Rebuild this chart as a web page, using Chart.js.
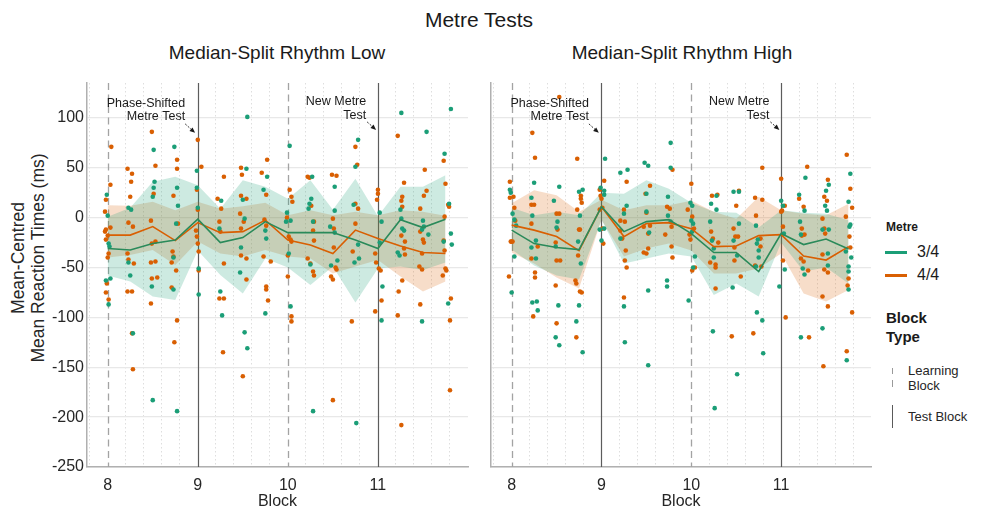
<!DOCTYPE html>
<html>
<head>
<meta charset="utf-8">
<title>Metre Tests</title>
<script src="https://cdn.jsdelivr.net/npm/chart.js@4.4.1/dist/chart.umd.min.js"></script>
<style>
  body { margin: 0; background: #fff; font-family: "Liberation Sans", Arial, Helvetica, sans-serif; color: #1a1a1a; }
  #wrap { position: relative; width: 981px; height: 508px; overflow: hidden; }
  .abs { position: absolute; white-space: nowrap; }
  .ctr { transform: translate(-50%, -50%); text-align: center; }
  canvas { position: absolute; top: 0; }
  .swatch { position: absolute; height: 2.5px; width: 22px; }
</style>
</head>
<body>
<div id="wrap">
  <div class="abs ctr" style="left:479px; top:20px; font-size:21px;">Metre Tests</div>
  <div class="abs ctr" style="left:277px; top:53px; font-size:19px;">Median-Split Rhythm Low</div>
  <div class="abs ctr" style="left:682px; top:53px; font-size:19px;">Median-Split Rhythm High</div>
  <div class="abs" style="left:28px; top:258px; font-size:17.5px; line-height:20px; text-align:center; transform:translate(-50%,-50%) rotate(-90deg); color:#262626;">Mean-Centred<br>Mean Reaction Times (ms)</div>

  <canvas id="lowChart" width="475" height="508" style="left:0px;"></canvas>
  <canvas id="highChart" width="400" height="508" style="left:475px;"></canvas>

  <!-- legend -->
  <div class="abs" style="left:886px; top:220px; font-size:12px; font-weight:bold;">Metre</div>
  <div class="swatch" style="left:885px; top:251px; background:#1b9e77;"></div>
  <div class="abs" style="left:917px; top:243px; font-size:16px;">3/4</div>
  <div class="swatch" style="left:885px; top:274px; background:#d95f02;"></div>
  <div class="abs" style="left:917px; top:266px; font-size:16px;">4/4</div>
  <div class="abs" style="left:886px; top:308px; font-size:15px; font-weight:bold; line-height:19px;">Block<br>Type</div>
  <div class="abs" style="left:892px; top:368px; width:1px; height:6px; background:#9a9a9a;"></div>
  <div class="abs" style="left:892px; top:380px; width:1px; height:7px; background:#9a9a9a;"></div>
  <div class="abs" style="left:908px; top:363px; font-size:13px; line-height:15px; color:#262626;">Learning<br>Block</div>
  <div class="abs" style="left:892px; top:405px; width:1.2px; height:23px; background:#5a5a5a;"></div>
  <div class="abs" style="left:908px; top:409px; font-size:13px; color:#262626;">Test Block</div>
</div>

<script>
// ===== Axes =====
const blockPos = [8, 8.25, 8.5, 8.75, 9, 9.25, 9.5, 9.75, 10, 10.25, 10.5, 10.75, 11, 11.25, 11.5, 11.75];
const blockTicks = [8, 9, 10, 11];
const xGrid = [7.8, 8, 8.2, 8.4, 8.6, 8.8, 9, 9.2, 9.4, 9.6, 9.8, 10, 10.2, 10.4, 10.6, 10.8, 11, 11.2, 11.4, 11.6, 11.8];
const yTicks = [-250, -200, -150, -100, -50, 0, 50, 100];
const learningBlocks = [8, 10];
const testBlocks = [9, 11];

// ===== Rhythm Low: means and ribbons =====
const lowMean34  = [-31, -32.5, -26, -22.5, -1.5, -25, -20, -4, -15, -15, -15, -22.5, -31, -2, -10, -1.5];
const lowUpper34 = [1, 10, 36, 41, 32.5, 9, 37.5, 31, 19, 37.5, 8, 39, 1.5, 31, 31, 42.5];
const lowLower34 = [-58, -64, -79, -82.5, -33, -57.5, -76, -41, -50, -67.5, -49, -85, -51, -49, -52.5, -45];
const lowMean44  = [-17.5, -17.5, -9, -23, -5, -15, -14, -2.5, -22.5, -27.5, -36, -12.5, -21, -28.5, -35, -36];
const lowUpper44 = [12.5, 12, 16, 7.5, 16, 9, 11.5, 15, 2.5, 7.5, 2.5, 6, 2.5, 7.5, 6, 2];
const lowLower44 = [-40, -37.5, -32.5, -47.5, -24, -36, -39, -32.5, -39, -41, -56, -49, -42.5, -59, -74, -64];

// ===== Rhythm High: means and ribbons =====
const highMean34  = [-12.5, -26, -30, -32, 11, -14, -4, -2, -16, -35, -35, -54, -16, -27, -21.5, -31.5];
const highUpper34 = [10, 2.5, 6, 2.5, 25, 24, 37.5, 29, 15, 6, 5, -10, 7.5, 5, 4, -2.5];
const highLower34 = [-32, -48, -58, -62, -2, -46, -41, -36, -39, -77.5, -66, -79, -25, -54, -50, -66];
const highMean44  = [-7.5, -12.5, -19, -33, 11, -19, -6, -5, -11, -29, -28.5, -18, -17, -38.5, -42.5, -29];
const highUpper44 = [14.5, 27.5, 22.5, 6, 18, 7.5, 12.5, 12.5, 17, 6, -1, 21, 7.5, 4, 2.5, 14];
const highLower44 = [-35, -46, -60, -71, -2, -39, -31, -26, -33, -56, -56, -51, -36, -76, -84, -72.5];

// ===== Participant points [block, ms] =====
const lowPoints34 = [
  [7.99,23],[8.0,2],[8.01,-26],[8.02,-29],[7.98,-63],[8.03,-61],[8.01,-87],
  [8.23,10],[8.26,8],[8.23,-45],[8.25,-58],[8.28,-116],
  [8.51,68],[8.52,36],[8.51,30],[8.5,21],[8.49,-69],[8.5,-183],
  [8.74,71],[8.77,30],[8.78,12],[8.76,-6],[8.73,-40],[8.73,-72],[8.77,-194],
  [8.99,47],[8.99,30],[9.0,10],[9.01,-51],[9.01,-77],
  [9.26,17],[9.24,-11],[9.25,-74],[9.27,-98],
  [9.54,49],[9.5,18],[9.52,-1],[9.48,-30],[9.47,-55],[9.52,-115],[9.55,-131],[9.55,101],
  [9.77,41],[9.73,28],[9.75,-13],[9.76,-21],[9.75,-96],
  [10.02,72],[9.99,5],[9.98,-4],[10.03,-3],[10.01,-36],[10.03,-89],
  [10.27,41],[10.26,19],[10.24,14],[10.23,9],[10.28,-4],[10.28,-194],[10.25,-47],
  [10.52,31],[10.52,7],[10.47,-9],[10.52,-15],[10.48,-48],[10.55,-43],
  [10.78,78],[10.75,51],[10.73,13],[10.78,-27],[10.79,-41],[10.74,-45],[10.76,-206],
  [11.02,5],[11.04,-4],[11.02,-25],[11.05,-69],[11.04,-103],
  [11.26,105],[11.25,8],[11.26,-1],[11.29,-13],[11.27,-11],[11.22,-35],[11.24,-38],
  [11.54,86],[11.5,-3],[11.51,-9],[11.49,-12],[11.56,-17],[11.49,-104],
  [11.81,109],[11.74,64],[11.79,14],[11.81,-16],[11.82,-27],[11.73,-24],[11.78,-86]
];
const lowPoints44 = [
  [8.04,71],[8.03,33],[7.98,18],[7.97,6],[7.97,-14],[7.98,-12],[8.0,-18],[7.98,-22],[8.03,-10],[8.01,-36],[8.0,-40],[7.99,-66],[7.98,-75],[8.01,-82],
  [8.22,49],[8.27,44],[8.26,36],[8.25,21],[8.23,-5],[8.28,-9],[8.22,-36],[8.23,-42],[8.29,-46],[8.22,-74],[8.27,-74],[8.27,-116],[8.28,-152],
  [8.49,86],[8.53,52],[8.51,24],[8.48,-3],[8.49,-26],[8.53,-24],[8.48,-45],[8.53,-44],[8.49,-61],[8.55,-60],[8.48,-86],
  [8.77,58],[8.77,49],[8.73,22],[8.78,-6],[8.72,-34],[8.73,-39],[8.71,-45],[8.76,-53],[8.71,-70],[8.77,-103],[8.74,-125],
  [9.0,78],[8.99,28],[9.0,8],[8.98,-13],[8.99,-19],[9.0,-26],[9.01,-34],[9.01,-53],[9.04,51],
  [9.29,41],[9.22,19],[9.26,9],[9.24,-4],[9.25,-14],[9.29,-46],[9.24,-81],[9.29,-81],[9.28,-135],
  [9.48,50],[9.49,43],[9.48,22],[9.54,19],[9.47,4],[9.51,-4],[9.48,-11],[9.48,-38],[9.54,-41],[9.54,-62],[9.5,-159],
  [9.77,58],[9.71,45],[9.76,23],[9.74,-2],[9.76,-8],[9.73,-39],[9.76,-69],[9.78,-83],[9.81,-44],[9.76,-72],
  [10.02,28],[10.04,21],[10.05,16],[9.99,0],[10.01,-19],[10.03,-22],[10.04,-24],[10.0,-38],[10.0,-59],[10.04,-99],[10.04,-104],
  [10.22,41],[10.24,40],[10.26,12],[10.29,-4],[10.28,-13],[10.29,-23],[10.22,-41],[10.25,-46],[10.28,-54],[10.29,-58],
  [10.49,43],[10.54,42],[10.5,-1],[10.51,-11],[10.51,-30],[10.53,-50],[10.54,-52],[10.48,-59],[10.5,-62],[10.5,-183],
  [10.75,71],[10.77,53],[10.75,14],[10.78,9],[10.75,-6],[10.72,-34],[10.71,-104],
  [11.0,28],[11.0,24],[10.99,18],[10.97,-36],[10.98,-45],[11.01,-51],[11.03,-53],[10.97,-94],[11.04,-83],
  [11.22,82],[11.29,35],[11.27,21],[11.26,17],[11.27,11],[11.26,-18],[11.3,-24],[11.29,-31],[11.3,-37],[11.27,-63],[11.23,-74],[11.22,-98],[11.26,-208],
  [11.52,48],[11.54,27],[11.51,22],[11.47,9],[11.47,-14],[11.5,-22],[11.51,-25],[11.49,-36],[11.46,-49],[11.49,-52],[11.47,-87],
  [11.73,57],[11.75,34],[11.74,1],[11.78,13],[11.79,11],[11.73,-23],[11.74,-33],[11.75,-51],[11.76,-53],[11.72,-58],[11.81,-81],[11.8,-103],[11.8,-173]
];
const highPoints34 = [
  [7.99,25],[8.01,4],[8.03,-2],[8.03,-39],[8.0,-75],[7.98,28],[8.05,-8],
  [8.25,35],[8.22,20],[8.23,2],[8.27,-23],[8.22,-30],[8.27,-41],[8.23,-85],[8.28,-84],[8.29,-93],
  [8.53,31],[8.47,17],[8.51,-4],[8.5,-10],[8.49,-29],[8.52,-88],[8.49,-120],[8.53,-128],
  [8.75,26],[8.79,28],[8.76,2],[8.74,-24],[8.77,-46],[8.75,-88],[8.72,-104],[8.79,-135],
  [9.04,59],[8.99,30],[9.03,23],[9.03,27],[8.98,-12],[9.03,-11],[9.0,-23],
  [9.21,45],[9.29,48],[9.25,4],[9.28,12],[9.21,-21],[9.25,-89],[9.26,-125],
  [9.48,55],[9.52,52],[9.5,24],[9.5,6],[9.53,-15],[9.52,-73],[9.52,-148],
  [9.77,75],[9.77,50],[9.74,21],[9.74,2],[9.77,-4],[9.73,-63],[9.73,-69],
  [9.99,15],[10.01,12],[10.0,-3],[10.02,-6],[10.01,-14],[10.04,-39],[10.02,-50],[9.97,-83],
  [10.22,14],[10.28,22],[10.28,8],[10.21,-4],[10.23,-23],[10.25,-31],[10.25,-40],[10.24,-114],[10.26,-191],
  [10.47,26],[10.53,26],[10.53,-6],[10.47,-23],[10.51,-38],[10.46,-70],[10.51,-157],
  [10.72,-8],[10.74,-22],[10.73,-26],[10.75,-33],[10.75,-40],[10.72,-49],[10.73,-95],[10.79,-103],[10.8,-136],
  [11.0,17],[11.02,12],[11.03,-16],[11.04,-52],[10.98,-69],
  [11.27,40],[11.2,23],[11.26,7],[11.21,-4],[11.22,-17],[11.24,-51],[11.26,-57],[11.22,-120],
  [11.53,33],[11.5,27],[11.49,12],[11.51,7],[11.46,-12],[11.53,-12],[11.52,-36],[11.52,-48],[11.46,-111],
  [11.77,44],[11.75,16],[11.76,-9],[11.77,-7],[11.72,-34],[11.78,-40],[11.75,-49],[11.75,-54],[11.75,-72],[11.73,-143]
];
const highPoints44 = [
  [7.98,36],[7.98,20],[8.02,21],[8.03,10],[7.99,-24],[8.0,-24],[8.01,-24],[7.97,-59],[8.04,-3],
  [8.23,85],[8.26,60],[8.22,13],[8.25,13],[8.22,-6],[8.29,-29],[8.22,-41],[8.26,-55],[8.26,-60],[8.24,-99],
  [8.53,121],[8.5,4],[8.53,4],[8.49,-25],[8.51,-12],[8.5,-43],[8.54,-43],[8.49,-68],[8.5,-106],
  [8.73,59],[8.77,19],[8.78,15],[8.73,8],[8.77,22],[8.75,-12],[8.76,-12],[8.74,-38],[8.71,-63],[8.72,-66],[8.76,-74],[8.78,-75],[8.72,-120],
  [8.98,28],[9.03,37],[9.0,19],[9.01,10],[8.98,8],[9.02,-26],[9.01,-11],[8.99,22],
  [9.28,36],[9.25,8],[9.26,-4],[9.21,-3],[9.21,-13],[9.23,-21],[9.27,-33],[9.26,-43],[9.28,-50],[9.25,-80],
  [9.54,32],[9.49,24],[9.5,5],[9.47,-9],[9.54,-8],[9.52,-16],[9.52,-31],[9.47,-35],[9.5,-36],
  [9.79,48],[9.76,9],[9.73,11],[9.78,-9],[9.71,-17],[9.78,-29],[9.79,-40],
  [10.0,34],[9.96,8],[10.01,1],[9.98,-17],[9.99,-22],[10.01,-53],[10.04,-50],[10.03,-11],
  [10.29,23],[10.23,22],[10.22,-14],[10.24,-21],[10.3,-25],[10.21,-45],[10.27,-47],[10.27,-50],[10.27,-71],
  [10.53,27],[10.5,12],[10.47,-11],[10.49,-19],[10.52,-19],[10.48,-30],[10.48,-43],[10.55,-59],[10.45,-119],
  [10.79,50],[10.71,20],[10.79,18],[10.72,2],[10.77,-21],[10.77,-29],[10.78,-49],[10.71,-48],[10.69,-116],
  [11.0,39],[11.04,12],[11.01,7],[11.0,6],[11.02,-9],[11.02,-43],[11.05,-100],
  [11.29,51],[11.2,19],[11.25,11],[11.23,-11],[11.23,-18],[11.26,-17],[11.22,-41],[11.25,-44],[11.3,-53],[11.31,-120],
  [11.52,38],[11.51,17],[11.48,21],[11.46,-1],[11.48,-11],[11.49,-16],[11.46,-37],[11.48,-52],[11.52,-55],[11.46,-79],[11.52,-89],[11.47,-149],
  [11.73,63],[11.77,29],[11.79,10],[11.72,1],[11.76,-19],[11.77,-30],[11.75,-61],[11.74,-68],[11.79,-95],[11.73,-134]
];

// ===== Test labels (text lines + where they sit, in data units) =====
const testLabels = [
  { lines: ['Phase-Shifted', 'Metre Test'], x: 8.86, y: [114, 101], arrow: [8.86, 94, 8.97, 85] },
  { lines: ['New Metre', 'Test'], x: 10.87, y: [116, 102.5], arrow: [10.88, 96, 10.98, 88] }
];

const GREEN = '#1b9e77';
const ORANGE = '#d95f02';
const FONT = '"Liberation Sans", Arial, Helvetica, sans-serif';

Chart.defaults.font.family = FONT;
Chart.defaults.color = '#262626';

function seriesXY(values) {
    return values.map((v, i) => ({ x: blockPos[i], y: v }));
}

function pointsXY(pairs) {
    return pairs.map(p => ({ x: p[0], y: p[1] }));
}

// reference lines for learning/test blocks + the test labels with arrows
const blockMarks = {
    id: 'blockMarks',
    beforeDatasetsDraw(chart) {
        const { ctx, chartArea, scales: { x } } = chart;
        ctx.save();
        learningBlocks.forEach(b => {
            const px = Math.round(x.getPixelForValue(b)) + 0.5;
            ctx.strokeStyle = '#a3a3a3';
            ctx.lineWidth = 1.3;
            ctx.setLineDash([7, 4.5]);
            ctx.beginPath();
            ctx.moveTo(px, chartArea.top);
            ctx.lineTo(px, chartArea.bottom);
            ctx.stroke();
        });
        testBlocks.forEach(b => {
            const px = Math.round(x.getPixelForValue(b)) + 0.5;
            ctx.strokeStyle = '#5c5c5c';
            ctx.lineWidth = 1.2;
            ctx.setLineDash([]);
            ctx.beginPath();
            ctx.moveTo(px, chartArea.top);
            ctx.lineTo(px, chartArea.bottom);
            ctx.stroke();
        });
        ctx.restore();
    },
    afterDraw(chart) {
        const { ctx, scales: { x, y } } = chart;
        ctx.save();
        ctx.fillStyle = '#1a1a1a';
        ctx.font = '12.5px ' + FONT;
        ctx.textAlign = 'right';
        ctx.textBaseline = 'middle';
        testLabels.forEach(lab => {
            lab.lines.forEach((t, i) => {
                ctx.fillText(t, x.getPixelForValue(lab.x), y.getPixelForValue(lab.y[i]));
            });
            const [ax1, ay1, ax2, ay2] = lab.arrow;
            const x1 = x.getPixelForValue(ax1), y1 = y.getPixelForValue(ay1);
            const x2 = x.getPixelForValue(ax2), y2 = y.getPixelForValue(ay2);
            const ang = Math.atan2(y2 - y1, x2 - x1);
            ctx.strokeStyle = '#1a1a1a';
            ctx.lineWidth = 0.9;
            ctx.setLineDash([2, 1.5]);
            ctx.beginPath();
            ctx.moveTo(x1, y1);
            ctx.lineTo(x2 - 3 * Math.cos(ang), y2 - 3 * Math.sin(ang));
            ctx.stroke();
            ctx.setLineDash([]);
            ctx.beginPath();
            ctx.moveTo(x2, y2);
            ctx.lineTo(x2 - 6 * Math.cos(ang - 0.4), y2 - 6 * Math.sin(ang - 0.4));
            ctx.lineTo(x2 - 6 * Math.cos(ang + 0.4), y2 - 6 * Math.sin(ang + 0.4));
            ctx.closePath();
            ctx.fill();
        });
        ctx.restore();
    }
};

function ribbon(values, color) {
    return {
        type: 'line', data: seriesXY(values), borderWidth: 0, pointRadius: 0,
        backgroundColor: color, tension: 0, order: 3
    };
}

function buildPanel(canvasId, d, showYTicks, yWidth, padRight) {
    const datasets = [
        Object.assign(ribbon(d.upper34, 'rgba(0,0,0,0)'), { fill: false }),
        Object.assign(ribbon(d.lower34, 'rgba(27,158,119,0.22)'), { fill: '-1' }),
        Object.assign(ribbon(d.upper44, 'rgba(0,0,0,0)'), { fill: false }),
        Object.assign(ribbon(d.lower44, 'rgba(217,95,2,0.21)'), { fill: '-1' }),
        { type: 'scatter', data: pointsXY(d.points34), pointRadius: 2.3, borderWidth: 0,
          backgroundColor: GREEN, order: 2 },
        { type: 'scatter', data: pointsXY(d.points44), pointRadius: 2.3, borderWidth: 0,
          backgroundColor: ORANGE, order: 2 },
        { type: 'line', data: seriesXY(d.mean34), borderColor: '#2a8a5a', borderWidth: 1.6,
          pointRadius: 0, fill: false, tension: 0, order: 1 },
        { type: 'line', data: seriesXY(d.mean44), borderColor: ORANGE, borderWidth: 1.6,
          pointRadius: 0, fill: false, tension: 0, order: 1 }
    ];

    return new Chart(document.getElementById(canvasId), {
        type: 'scatter',
        data: { datasets },
        options: {
            responsive: false,
            animation: false,
            events: [],
            layout: { padding: { top: 83, right: padRight, bottom: 0, left: 0 } },
            plugins: { legend: { display: false }, tooltip: { enabled: false } },
            scales: {
                x: {
                    type: 'linear', min: 7.77, max: 12,
                    afterBuildTicks: s => { s.ticks = xGrid.map(v => ({ value: v })); },
                    afterFit: s => { s.height = 41; },
                    ticks: {
                        autoSkip: false, maxRotation: 0, padding: 9,
                        font: { size: 16 }, color: '#262626',
                        callback: v => blockTicks.includes(v) ? String(v) : ''
                    },
                    grid: {
                        drawTicks: false, lineWidth: 1,
                        color: c => blockTicks.includes(c.tick.value) ? 'rgba(0,0,0,0)' : '#dedede'
                    },
                    border: { color: '#b0b0b0', width: 1.5, dash: [1.5, 2.5] },
                    title: { display: true, text: 'Block', font: { size: 16, lineHeight: 0.8 },
                             padding: { top: 0, bottom: 0 }, color: '#262626' }
                },
                y: {
                    min: -250, max: 135,
                    afterBuildTicks: s => { s.ticks = yTicks.map(v => ({ value: v })); },
                    afterFit: s => { s.width = yWidth; },
                    ticks: { display: showYTicks, padding: 3, font: { size: 16 }, color: '#262626' },
                    grid: { drawTicks: false, color: '#e8e8e8', lineWidth: 1.3 },
                    border: { color: '#b0b0b0', width: 1.5 }
                }
            }
        },
        plugins: [blockMarks]
    });
}

buildPanel('lowChart', {
    mean34: lowMean34, upper34: lowUpper34, lower34: lowLower34,
    mean44: lowMean44, upper44: lowUpper44, lower44: lowLower44,
    points34: lowPoints34, points44: lowPoints44
}, true, 87, 7);

buildPanel('highChart', {
    mean34: highMean34, upper34: highUpper34, lower34: highLower34,
    mean44: highMean44, upper44: highUpper44, lower44: highLower44,
    points34: highPoints34, points44: highPoints44
}, false, 16, 2);
</script>
</body>
</html>
